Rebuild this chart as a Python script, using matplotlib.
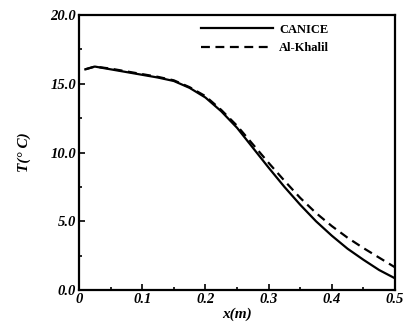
import matplotlib
matplotlib.use("Agg")
import matplotlib.pyplot as plt
from matplotlib.ticker import MultipleLocator, FixedLocator

x = [0.01, 0.025, 0.05, 0.075, 0.1, 0.125, 0.15, 0.175, 0.2, 0.225, 0.25,
     0.275, 0.3, 0.325, 0.35, 0.375, 0.4, 0.425, 0.45, 0.475, 0.5]
canice = [16.05, 16.25, 16.05, 15.85, 15.65, 15.45, 15.2, 14.7, 14.0, 13.0, 11.8,
          10.35, 8.9, 7.5, 6.2, 5.0, 3.95, 3.0, 2.2, 1.45, 0.85]
alkhalil = [16.05, 16.25, 16.1, 15.9, 15.7, 15.5, 15.25, 14.75, 14.1, 13.1, 11.95,
            10.6, 9.25, 7.95, 6.7, 5.6, 4.65, 3.8, 3.05, 2.35, 1.65]
xticks = [0, 0.1, 0.2, 0.3, 0.4, 0.5]
xticklabels = ["0", "0.1", "0.2", "0.3", "0.4", "0.5"]
yticks = [0, 5, 10, 15, 20]
yticklabels = ["0.0", "5.0", "10.0", "15.0", "20.0"]

plt.rcParams['font.family'] = ['Liberation Serif', 'DejaVu Serif']

fig = plt.figure(figsize=(4.03, 3.28), dpi=100)
ax = fig.add_axes([79/403, 38/328, 316/403, 275/328])

ax.plot(x, canice, color='black', lw=1.6, label='CANICE')
ax.plot(x, alkhalil, color='black', lw=1.6, ls=(0, (4, 2.5)), label='Al-Khalil')

ax.set_xlim(0, 0.5)
ax.set_ylim(0, 20)
ax.xaxis.set_major_locator(FixedLocator(xticks))
ax.set_xticklabels(xticklabels)
ax.xaxis.set_minor_locator(MultipleLocator(0.05))
ax.yaxis.set_major_locator(FixedLocator(yticks))
ax.set_yticklabels(yticklabels)
ax.yaxis.set_minor_locator(MultipleLocator(2.5))

ax.tick_params(which='both', direction='in', width=1.2, top=False, right=False)
ax.tick_params(which='major', length=4, pad=2)
ax.tick_params(which='minor', length=2.5)
for lbl in ax.get_xticklabels() + ax.get_yticklabels():
    lbl.set_fontweight('bold')
    lbl.set_fontstyle('italic')
    lbl.set_fontsize(10.5)

for s in ax.spines.values():
    s.set_linewidth(1.6)

ax.set_xlabel('x(m)', fontsize=11, fontweight='bold', fontstyle='italic', labelpad=1)
ax.set_ylabel('T(° C)', fontsize=11, fontweight='bold', fontstyle='italic', labelpad=14)

leg = ax.legend(loc='upper right', frameon=False,
                prop={'weight': 'bold', 'size': 9},
                handlelength=5.8, handletextpad=0.5, borderaxespad=0.3,
                bbox_to_anchor=(0.82, 1.0), labelspacing=0.5)

fig.savefig('out.png', dpi=100)
